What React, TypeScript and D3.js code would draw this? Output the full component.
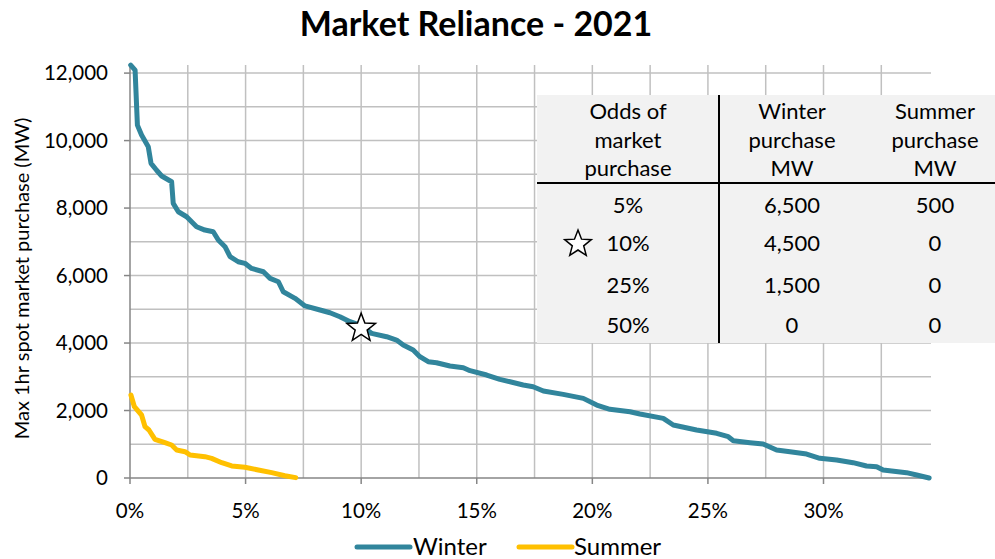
import React from "react";
import * as d3 from "d3";

const winterX = [0.03, 0.22, 0.32, 0.5, 0.79, 0.91, 1.15, 1.37, 1.8, 1.87, 2.09, 2.45, 2.88, 3.24, 3.6, 3.82, 4.11, 4.33, 4.68, 4.97, 5.26, 5.77, 6.06, 6.42, 6.63, 7.14, 7.57, 8.22, 8.65, 9.08, 9.52, 9.95, 10.45, 11.1, 11.53, 11.82, 12.25, 12.54, 12.9, 13.26, 13.84, 14.42, 14.71, 15.43, 16.0, 16.44, 17.01, 17.44, 17.88, 18.74, 19.61, 20.19, 20.76, 21.63, 22.06, 23.07, 23.5, 24.51, 25.38, 25.88, 26.1, 26.82, 27.39, 27.97, 28.55, 29.27, 29.84, 30.57, 31.28, 31.86, 32.3, 32.58, 33.59, 34.03, 34.57];
const winterY = [12237, 12090, 10459, 10163, 9817, 9324, 9120, 8950, 8780, 8138, 7891, 7743, 7447, 7348, 7299, 7052, 6854, 6558, 6409, 6361, 6212, 6113, 5916, 5817, 5520, 5324, 5100, 4978, 4898, 4780, 4632, 4533, 4287, 4188, 4089, 3941, 3793, 3595, 3447, 3417, 3318, 3269, 3180, 3052, 2923, 2854, 2756, 2706, 2578, 2479, 2360, 2163, 2035, 1965, 1896, 1768, 1570, 1422, 1324, 1224, 1105, 1046, 1007, 830, 780, 711, 583, 533, 454, 356, 336, 237, 158, 89, 0];

const summerX = [0.04, 0.19, 0.5, 0.65, 0.82, 1.08, 1.51, 1.8, 2.02, 2.38, 2.6, 3.24, 3.53, 3.97, 4.4, 4.97, 5.55, 6.13, 6.7, 7.17];
const summerY = [2459, 2114, 1867, 1521, 1422, 1146, 1046, 978, 830, 780, 681, 632, 583, 454, 356, 317, 237, 158, 68, 10];

const xTicks = [0, 5, 10, 15, 20, 25, 30];
const yTicks = [0, 2000, 4000, 6000, 8000, 10000, 12000];

const tableHeaders = [["Odds of", "market", "purchase"], ["Winter", "purchase", "MW"], ["Summer", "purchase", "MW"]];
const tableOdds = ["5%", "10%", "25%", "50%"];
const tableWinter = ["6,500", "4,500", "1,500", "0"];
const tableSummer = ["500", "0", "0", "0"];

const starPoint = { x: 10, y: 4500 };

const FONT = "Lato, 'Open Sans', sans-serif";
const WINTER = "#31859c";
const SUMMER = "#ffc000";

function starPath(cx: number, cy: number, R: number, r: number) {
  const pts: string[] = [];
  for (let i = 0; i < 10; i++) {
    const a = -Math.PI / 2 + (i * Math.PI) / 5;
    const rad = i % 2 === 0 ? R : r;
    pts.push(`${cx + rad * Math.cos(a)},${cy + rad * Math.sin(a)}`);
  }
  return "M" + pts.join("L") + "Z";
}

export default function App() {
  const left = 130, right = 931, top = 65, bottom = 478;
  const x = d3.scaleLinear().domain([0, 34.65]).range([left, right]);
  const y = d3.scaleLinear().domain([0, 12240]).range([bottom, top]);
  const line = d3.line<[number, number]>().x((d) => x(d[0])).y((d) => y(d[1]));
  const winter = winterX.map((v, i) => [v, winterY[i]] as [number, number]);
  const summer = summerX.map((v, i) => [v, summerY[i]] as [number, number]);

  const vGrid = d3.range(2.5, 34.65, 2.5);
  const hGrid = d3.range(1000, 12240, 1000);

  const colX = [628, 792, 935];
  const headerY = [111, 140, 168];
  const rowY = [205, 243, 285, 325];

  return (
    <svg width={995} height={559} style={{ position: "absolute", left: 0, top: 0, background: "#fff" }} fontFamily={FONT}>
      <text x={476} y={36} textAnchor="middle" fontSize={34} fontWeight="bold" fill="#000">Market Reliance - 2021</text>

      {hGrid.map((v) => (
        <line key={"h" + v} x1={left} x2={right} y1={y(v)} y2={y(v)} stroke="#c0c0c0" strokeWidth={1.5} />
      ))}
      {vGrid.map((v) => (
        <line key={"v" + v} x1={x(v)} x2={x(v)} y1={top} y2={bottom} stroke="#c0c0c0" strokeWidth={1.5} />
      ))}

      <line x1={left} x2={left} y1={top} y2={bottom} stroke="#868686" strokeWidth={1.5} />
      <line x1={left} x2={right} y1={bottom} y2={bottom} stroke="#868686" strokeWidth={1.5} />

      {yTicks.map((v) => (
        <g key={"yt" + v}>
          <line x1={left - 6} x2={left} y1={y(v)} y2={y(v)} stroke="#868686" strokeWidth={1.5} />
          <text x={108} y={y(v)} dy="0.35em" textAnchor="end" fontSize={20.5} fill="#000">{d3.format(",")(v)}</text>
        </g>
      ))}
      {xTicks.map((v) => (
        <g key={"xt" + v}>
          <line x1={x(v)} x2={x(v)} y1={bottom} y2={bottom + 6} stroke="#868686" strokeWidth={1.5} />
          <text x={x(v)} y={511} dy="0.35em" textAnchor="middle" fontSize={20.5} fill="#000">{v + "%"}</text>
        </g>
      ))}

      <text transform={`translate(22,${(top + bottom) / 2 + 7}) rotate(-90)`} textAnchor="middle" dy="0.35em" fontSize={20} fill="#000">
        Max 1hr spot market purchase (MW)
      </text>

      {/* table */}
      <rect x={537} y={95} width={458} height={248} fill="#f2f2f2" />
      <line x1={719} x2={719} y1={95} y2={343} stroke="#000" strokeWidth={2} />
      <line x1={537} x2={995} y1={183} y2={183} stroke="#000" strokeWidth={2} />
      {tableHeaders.map((lines, c) =>
        lines.map((t, r) => (
          <text key={`th${c}${r}`} x={colX[c]} y={headerY[r]} dy="0.35em" textAnchor="middle" fontSize={22} fill="#000">{t}</text>
        ))
      )}
      {tableOdds.map((t, r) => (
        <g key={"row" + r}>
          <text x={colX[0]} y={rowY[r]} dy="0.35em" textAnchor="middle" fontSize={22} fill="#000">{t}</text>
          <text x={colX[1]} y={rowY[r]} dy="0.35em" textAnchor="middle" fontSize={22} fill="#000">{tableWinter[r]}</text>
          <text x={colX[2]} y={rowY[r]} dy="0.35em" textAnchor="middle" fontSize={22} fill="#000">{tableSummer[r]}</text>
        </g>
      ))}
      <path d={starPath(578, 244, 14, 6)} fill="#fff" stroke="#000" strokeWidth={1.5} />

      <path d={line(summer) || ""} fill="none" stroke={SUMMER} strokeWidth={5} strokeLinejoin="round" strokeLinecap="round" />
      <path d={line(winter) || ""} fill="none" stroke={WINTER} strokeWidth={5} strokeLinejoin="round" strokeLinecap="round" />

      <path d={starPath(x(starPoint.x), y(starPoint.y) + 2, 15, 6.3)} fill="#fff" stroke="#000" strokeWidth={1.5} />

      {/* legend */}
      <line x1={357} x2={410} y1={547} y2={547} stroke={WINTER} strokeWidth={5} strokeLinecap="round" />
      <text x={413} y={547} dy="0.35em" fontSize={24} fill="#000">Winter</text>
      <line x1={519} x2={572} y1={547} y2={547} stroke={SUMMER} strokeWidth={5} strokeLinecap="round" />
      <text x={574} y={547} dy="0.35em" fontSize={24} fill="#000">Summer</text>
    </svg>
  );
}
